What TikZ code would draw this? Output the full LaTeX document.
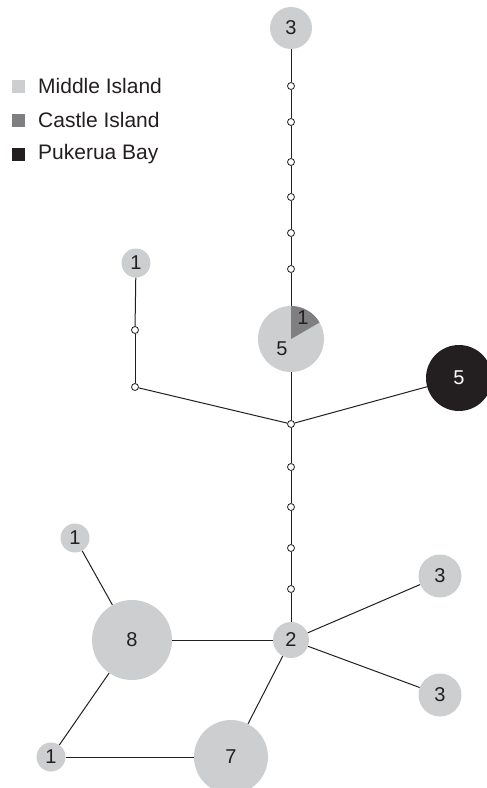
\documentclass[tikz,border=0pt]{standalone}
\usepackage{fontspec}
\setmainfont{Liberation Sans}
\definecolor{lgrey}{HTML}{CDCED0}
\definecolor{mgrey}{HTML}{7F7F82}
\definecolor{dblack}{HTML}{231F20}
\definecolor{edgec}{HTML}{231F20}
\begin{document}
\begin{tikzpicture}[x=1pt,y=-1pt,
  conn/.style={line width=1pt, draw=edgec},
  hap/.style={circle, fill=lgrey, inner sep=0pt, text=edgec, font=\fontsize{20}{20}\selectfont},
  med/.style={circle, draw=edgec, fill=white, line width=0.8pt, inner sep=0pt, minimum size=7pt},
  lbl/.style={inner sep=0pt, text=edgec, font=\fontsize{20}{20}\selectfont},
  legsq/.style={inner sep=0pt, minimum size=13pt},
  legtxt/.style={anchor=west, inner sep=0pt, text=edgec, font=\fontsize{21}{21}\selectfont}]
\useasboundingbox (0,0) rectangle (487,788);
% legend
\node[legsq, fill=lgrey] (k1) at (18.5,86) {};
\node[legsq, fill=mgrey] (k2) at (18.5,120) {};
\node[legsq, fill=dblack] (k3) at (18.5,154) {};
\node[legtxt] (t1) at (38,86) {Middle Island};
\node[legtxt] (t2) at (38,120) {Castle Island};
\node[legtxt] (t3) at (38,154) {Pukerua Bay};
% haplotype nodes
\node[hap, minimum size=42pt] (top3) at (291,28) {3};
\node[hap, minimum size=66pt] (pie) at (291,339) {};
\fill[mgrey] (pie.center) -- ++(0pt,33pt) arc[start angle=90, end angle=30, radius=33pt] -- cycle;
\node[lbl] (pie1) at (303,318) {1};
\node[lbl] (pie5) at (282,349) {5};
\node[hap, minimum size=66pt, fill=dblack, text=white] (blk5) at (459,378) {5};
\node[hap, minimum size=29pt] (n1top) at (136,263) {1};
\node[hap, minimum size=29pt] (n1left) at (75,538) {1};
\node[hap, minimum size=80pt] (n8) at (132,640) {8};
\node[hap, minimum size=36pt] (n2) at (291,640) {2};
\node[hap, minimum size=43pt] (r3a) at (440,576) {3};
\node[hap, minimum size=43pt] (r3b) at (440,695) {3};
\node[hap, minimum size=74pt] (n7) at (231,757) {7};
\node[hap, minimum size=29pt] (n1bot) at (51,757) {1};
% median vectors
\node[med] (m1) at (291,86) {};
\node[med] (m2) at (291,122) {};
\node[med] (m3) at (291,162) {};
\node[med] (m4) at (291,197) {};
\node[med] (m5) at (291,233) {};
\node[med] (m6) at (291,269) {};
\node[med] (J) at (291,424) {};
\node[med] (b1) at (291,467) {};
\node[med] (b2) at (291,507) {};
\node[med] (b3) at (291,548) {};
\node[med] (b4) at (291,589) {};
\node[med] (L1) at (135,330) {};
\node[med] (L2) at (135,387) {};
% connectors
\draw[conn] (top3) -- (m1);
\draw[conn] (m1) -- (m2);
\draw[conn] (m2) -- (m3);
\draw[conn] (m3) -- (m4);
\draw[conn] (m4) -- (m5);
\draw[conn] (m5) -- (m6);
\draw[conn] (m6) -- (pie);
\draw[conn] (pie) -- (J);
\draw[conn] (J) -- (L2);
\draw[conn] (L2) -- (L1);
\draw[conn] (L1) -- (n1top);
\draw[conn] (J) -- (blk5);
\draw[conn] (J) -- (b1);
\draw[conn] (b1) -- (b2);
\draw[conn] (b2) -- (b3);
\draw[conn] (b3) -- (b4);
\draw[conn] (b4) -- (n2);
\draw[conn] (n2) -- (r3a);
\draw[conn] (n2) -- (r3b);
\draw[conn] (n2) -- (n8);
\draw[conn] (n2) -- (n7);
\draw[conn] (n8) -- (n1left);
\draw[conn] (n8) -- (n1bot);
\draw[conn] (n1bot) -- (n7);
\end{tikzpicture}
\end{document}
